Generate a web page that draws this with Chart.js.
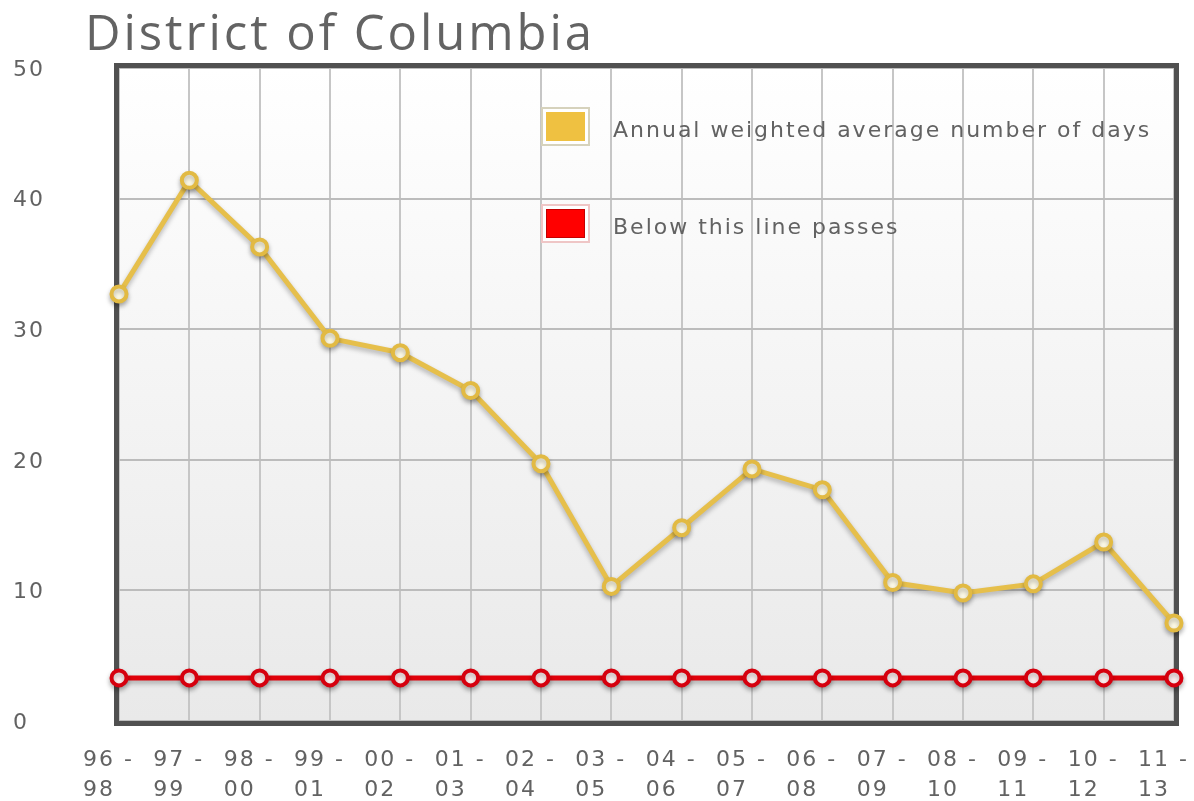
<!DOCTYPE html>
<html>
<head>
<meta charset="utf-8">
<title>District of Columbia</title>
<script src="https://cdn.jsdelivr.net/npm/chart.js@4.4.1/dist/chart.umd.min.js"></script>
<style>
  html, body { margin: 0; padding: 0; background: #ffffff; }
  #wrap { position: relative; width: 1194px; height: 801px; }
</style>
</head>
<body>
<div id="wrap"><canvas id="chart"></canvas></div>
<script>
// Chart text and values
const chartTitle = 'District of Columbia';
const periods = [
  ['96 -', '98'], ['97 -', '99'], ['98 -', '00'], ['99 -', '01'],
  ['00 -', '02'], ['01 -', '03'], ['02 -', '04'], ['03 -', '05'],
  ['04 -', '06'], ['05 -', '07'], ['06 -', '08'], ['07 -', '09'],
  ['08 -', '10'], ['09 -', '11'], ['10 -', '12'], ['11 -', '13']
];
const averageDays = [32.7, 41.4, 36.3, 29.3, 28.2, 25.3, 19.7, 10.3, 14.8, 19.3, 17.7, 10.6, 9.8, 10.5, 13.7, 7.5];
const passLine = [3.3, 3.3, 3.3, 3.3, 3.3, 3.3, 3.3, 3.3, 3.3, 3.3, 3.3, 3.3, 3.3, 3.3, 3.3, 3.3];
const yTicks = [0, 10, 20, 30, 40, 50];
const seriesNames = ['Annual weighted average number of days', 'Below this line passes'];

const TEXT_FONT = '"DejaVu Sans", Verdana, sans-serif';
const TEXT_COLOR = '#626262';
const TEXT_SPACING = '2px';

// Plot background, framed box, inline legend and title
const framePlugin = {
  id: 'frame',
  beforeDraw(chart) {
    const { ctx, chartArea: a, width, height } = chart;
    ctx.save();
    ctx.fillStyle = '#ffffff';
    ctx.fillRect(0, 0, width, height);
    const g = ctx.createLinearGradient(0, a.top, 0, a.bottom);
    g.addColorStop(0, '#ffffff');
    g.addColorStop(1, '#e9e9e9');
    ctx.fillStyle = g;
    ctx.fillRect(a.left, a.top, a.right - a.left, a.bottom - a.top);
    ctx.restore();
    ctx.letterSpacing = TEXT_SPACING;
  },
  beforeDatasetsDraw(chart) {
    const { ctx, chartArea: a } = chart;
    ctx.letterSpacing = '0px';
    ctx.save();
    // frame around the plot
    ctx.strokeStyle = '#505050';
    ctx.lineWidth = 5;
    ctx.strokeRect(a.left - 2.5, a.top - 2.5, a.right - a.left + 5, a.bottom - a.top + 5);

    // legend entries
    const boxX = a.left + 423;
    const rows = [a.top + 58, a.top + 155];
    const edges = ['#d6d2bc', '#efc6c6'];
    chart.data.datasets.forEach((ds, i) => {
      const cy = rows[i];
      ctx.fillStyle = '#ffffff';
      ctx.fillRect(boxX, cy - 18, 47, 37);
      ctx.strokeStyle = edges[i];
      ctx.lineWidth = 2;
      ctx.strokeRect(boxX, cy - 18, 47, 37);
      ctx.fillStyle = ds.legendFill;
      ctx.fillRect(boxX + 4, cy - 14, 39, 29);
      if (ds.legendEdge) {
        ctx.strokeStyle = ds.legendEdge;
        ctx.lineWidth = 1;
        ctx.strokeRect(boxX + 4.5, cy - 13.5, 38, 28);
      }
      ctx.fillStyle = TEXT_COLOR;
      ctx.font = '22px ' + TEXT_FONT;
      ctx.letterSpacing = TEXT_SPACING;
      ctx.textAlign = 'left';
      ctx.textBaseline = 'middle';
      ctx.fillText(ds.label, boxX + 71, cy + 5);
      ctx.letterSpacing = '0px';
    });
    ctx.restore();
  },
  afterDraw(chart) {
    const { ctx } = chart;
    ctx.save();
    ctx.font = '49px "Open Sans", "DejaVu Sans", sans-serif';
    ctx.letterSpacing = '0px';
    const w = ctx.measureText(chartTitle).width;
    const target = 507;
    const gap = Math.max(0, (target - w) / (chartTitle.length - 1));
    ctx.letterSpacing = gap.toFixed(2) + 'px';
    ctx.fillStyle = '#636363';
    ctx.textAlign = 'left';
    ctx.textBaseline = 'alphabetic';
    ctx.fillText(chartTitle, 85, 50);
    ctx.restore();
  }
};

// soft drop shadow under each series
const shadowPlugin = {
  id: 'lineShadow',
  beforeDatasetDraw(chart) {
    const ctx = chart.ctx;
    ctx.save();
    ctx.shadowColor = 'rgba(0,0,0,0.28)';
    ctx.shadowBlur = 5;
    ctx.shadowOffsetY = 3;
  },
  afterDatasetDraw(chart) {
    chart.ctx.restore();
  }
};

new Chart(document.getElementById('chart'), {
  type: 'line',
  data: {
    labels: periods,
    datasets: [
      {
        label: seriesNames[0],
        data: averageDays,
        borderColor: '#e6bf4b',
        borderWidth: 5,
        pointRadius: 7.5,
        pointBorderWidth: 4,
        pointBackgroundColor: '#fffce8',
        pointBorderColor: '#e2ba43',
        legendFill: '#efc141',
        tension: 0,
        clip: false
      },
      {
        label: seriesNames[1],
        data: passLine,
        borderColor: '#e0000a',
        borderWidth: 5,
        pointRadius: 7.5,
        pointBorderWidth: 4,
        pointBackgroundColor: '#fff2f2',
        pointBorderColor: '#d6000e',
        legendFill: '#ff0000',
        legendEdge: '#c40000',
        tension: 0,
        clip: false
      }
    ]
  },
  options: {
    responsive: true,
    maintainAspectRatio: false,
    animation: false,
    events: [],
    layout: { padding: { top: 68, left: 13, right: 20, bottom: 0 } },
    plugins: {
      legend: { display: false },
      title: { display: false },
      tooltip: { enabled: false }
    },
    scales: {
      x: {
        type: 'category',
        offset: false,
        border: { display: false },
        grid: { color: '#c6c6c6', lineWidth: 2, drawTicks: false },
        ticks: {
          font: { family: TEXT_FONT, size: 22, lineHeight: '30px' },
          color: TEXT_COLOR,
          padding: 24,
          align: 'start',
          labelOffset: -36,
          autoSkip: false,
          maxRotation: 0,
          minRotation: 0
        },
        afterFit(s) {
          s.height = 80;
          s.paddingLeft = 0;
          s.paddingRight = 0;
        }
      },
      y: {
        min: 0,
        max: 50,
        border: { display: false },
        grid: { color: '#bcbcbc', lineWidth: 2, drawTicks: false },
        afterBuildTicks(s) {
          s.ticks = yTicks.map(v => ({ value: v }));
        },
        ticks: {
          font: { family: TEXT_FONT, size: 22 },
          color: TEXT_COLOR,
          crossAlign: 'far',
          padding: 0,
          labelOffset: 2
        },
        afterFit(s) {
          s.width = 106;
        }
      }
    }
  },
  plugins: [framePlugin, shadowPlugin]
});
</script>
</body>
</html>
